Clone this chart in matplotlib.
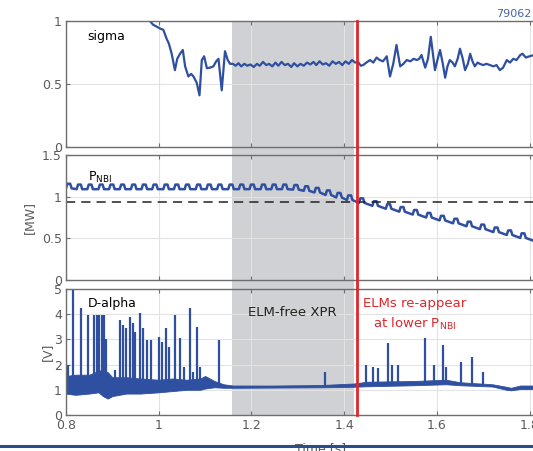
import matplotlib
matplotlib.use("Agg")
import matplotlib.pyplot as plt
from matplotlib.patches import Rectangle
from matplotlib.lines import Line2D
from matplotlib.transforms import blended_transform_factory
import numpy as np

SHOT = "79062"
BLUE = "#2f4fa0"
RED = "#e0262b"
SHADE = "#d0d1d4"
GRID = "#e3e3e3"
SPINE = "#6e6e6e"
TICK_TXT = "#5a5a5a"

XPR_START = 1.158
XPR_END = 1.421
ELM_RETURN = 1.428
P_THRESHOLD = 0.94

# sigma trace
sigma_t = [0.975, 0.981, 0.988, 0.996, 1.003, 1.010, 1.017, 1.022, 1.028, 1.035,
           1.040, 1.046, 1.052, 1.057, 1.064, 1.070, 1.075, 1.082, 1.088, 1.093,
           1.098, 1.104, 1.111, 1.118, 1.124, 1.129, 1.136, 1.143, 1.149, 1.154,
           1.160, 1.166, 1.172, 1.178, 1.185, 1.191, 1.198, 1.205, 1.212, 1.218,
           1.225, 1.232, 1.238, 1.245, 1.252, 1.258, 1.265, 1.272, 1.279, 1.286,
           1.292, 1.299, 1.306, 1.313, 1.320, 1.327, 1.334, 1.340, 1.347, 1.354,
           1.361, 1.368, 1.375, 1.382, 1.389, 1.396, 1.403, 1.410, 1.417, 1.424,
           1.430, 1.436, 1.441, 1.448, 1.456, 1.463, 1.470, 1.477, 1.484, 1.492,
           1.499, 1.506, 1.513, 1.521, 1.528, 1.535, 1.543, 1.550, 1.557, 1.562,
           1.567, 1.575, 1.581, 1.587, 1.596, 1.602, 1.607, 1.613, 1.618, 1.623,
           1.628, 1.634, 1.639, 1.645, 1.650, 1.656, 1.661, 1.667, 1.672, 1.677,
           1.682, 1.688, 1.693, 1.700, 1.707, 1.715, 1.722, 1.729, 1.736, 1.743,
           1.751, 1.758, 1.765, 1.772, 1.780, 1.785, 1.792, 1.800, 1.810]
sigma_v = [1.05, 1.00, 0.97, 0.955, 0.94, 0.93, 0.86, 0.82, 0.74, 0.61,
           0.70, 0.74, 0.77, 0.64, 0.56, 0.58, 0.56, 0.51, 0.41, 0.69,
           0.72, 0.625, 0.63, 0.64, 0.68, 0.70, 0.45, 0.76, 0.69, 0.66,
           0.66, 0.645, 0.665, 0.64, 0.66, 0.645, 0.655, 0.635, 0.66, 0.645,
           0.675, 0.65, 0.66, 0.64, 0.67, 0.645, 0.675, 0.65, 0.66, 0.635,
           0.665, 0.64, 0.66, 0.645, 0.67, 0.655, 0.675, 0.65, 0.68, 0.655,
           0.665, 0.645, 0.68, 0.66, 0.675, 0.65, 0.68, 0.66, 0.69, 0.67,
           0.675, 0.645, 0.65, 0.67, 0.69, 0.67, 0.71, 0.69, 0.68, 0.72,
           0.56, 0.66, 0.81, 0.64, 0.66, 0.69, 0.68, 0.70, 0.69, 0.70,
           0.73, 0.63, 0.70, 0.875, 0.61, 0.70, 0.77, 0.66, 0.55, 0.64,
           0.69, 0.67, 0.64, 0.70, 0.78, 0.70, 0.61, 0.66, 0.74, 0.68,
           0.64, 0.67, 0.66, 0.65, 0.66, 0.65, 0.64, 0.65, 0.61, 0.63,
           0.69, 0.67, 0.70, 0.69, 0.73, 0.74, 0.71, 0.72, 0.73]

# NBI power: start time and base level of each modulation pulse
pnbi_pulse_t = [0.800, 0.823, 0.846, 0.870, 0.893, 0.916, 0.940, 0.963, 0.986, 1.010,
                1.033, 1.056, 1.080, 1.103, 1.126, 1.150, 1.173, 1.196, 1.220, 1.243,
                1.266, 1.290, 1.313, 1.336, 1.360, 1.383, 1.406, 1.432, 1.461, 1.490,
                1.519, 1.548, 1.577, 1.606, 1.635, 1.664, 1.693, 1.722, 1.751, 1.780,
                1.809]
pnbi_base = [1.10, 1.09, 1.09, 1.09, 1.09, 1.09, 1.09, 1.09, 1.09, 1.09,
             1.09, 1.09, 1.09, 1.09, 1.09, 1.09, 1.09, 1.09, 1.09, 1.09,
             1.09, 1.085, 1.07, 1.05, 1.02, 0.99, 0.96, 0.925, 0.89, 0.855,
             0.82, 0.785, 0.75, 0.715, 0.68, 0.645, 0.61, 0.575, 0.54, 0.505,
             0.47]
PULSE_HEIGHT = 0.055

# D-alpha baseline envelope
da_env_t = [0.800, 0.820, 0.850, 0.870, 0.880, 0.890, 0.900, 0.930, 0.960, 1.000,
            1.030, 1.060, 1.090, 1.100, 1.120, 1.140, 1.160, 1.250, 1.350, 1.420,
            1.450, 1.550, 1.620, 1.650, 1.720, 1.750, 1.760, 1.780, 1.810]
da_env_lo = [0.85, 0.80, 0.85, 0.90, 0.75, 0.65, 0.75, 0.85, 0.85, 0.90,
             0.95, 1.00, 1.00, 1.05, 1.10, 1.08, 1.08, 1.09, 1.10, 1.12,
             1.14, 1.18, 1.22, 1.18, 1.13, 1.00, 0.98, 1.03, 1.03]
da_env_hi = [1.55, 1.60, 1.60, 1.75, 1.80, 1.70, 1.50, 1.50, 1.45, 1.40,
             1.45, 1.40, 1.45, 1.55, 1.35, 1.22, 1.17, 1.17, 1.19, 1.25,
             1.32, 1.35, 1.40, 1.30, 1.22, 1.12, 1.08, 1.17, 1.17]

# D-alpha ELM spikes (time, peak)
elm_t = [0.805, 0.8155, 0.8324, 0.8481, 0.861, 0.866, 0.872, 0.877, 0.882, 0.8863,
         0.9057, 0.9165, 0.9237, 0.9295, 0.9381, 0.9453, 0.9489, 0.9597, 0.9655, 0.9741,
         0.9827, 1.0014, 1.0078, 1.0158, 1.0229, 1.0352, 1.0460, 1.0546, 1.0675, 1.0747,
         1.0833, 1.0891, 1.1308, 1.3588, 1.447, 1.462, 1.474, 1.495, 1.503, 1.516,
         1.575, 1.593, 1.614, 1.620, 1.653, 1.675, 1.700]
elm_v = [2.0, 5.0, 4.24, 3.97, 3.97, 3.97, 3.97, 3.97, 3.97, 3.0,
         1.8, 3.77, 3.57, 3.44, 3.9, 3.64, 3.3, 4.04, 3.44, 2.97,
         2.97, 3.1, 2.9, 3.44, 2.7, 3.97, 3.04, 1.9, 4.24, 1.7,
         3.5, 1.9, 2.97, 1.7, 1.98, 1.9, 1.85, 2.84, 2.0, 1.98,
         3.04, 2.0, 2.78, 1.9, 2.1, 2.31, 1.7]

xticks = [0.8, 1.0, 1.2, 1.4, 1.6, 1.8]
xtick_labels = ["0.8", "1", "1.2", "1.4", "1.6", "1.8"]


def pnbi_trace(starts, bases, height):
    t, v = [], []
    for t0, b in zip(starts, bases):
        t += [t0, t0 + 0.003, t0 + 0.009, t0 + 0.012]
        v += [b, b + height, b + height, b]
    return np.array(t), np.array(v)


def style_axis(ax, ylim, yticks, ylabels):
    ax.set_facecolor("none")
    ax.set_xlim(0.8, 1.9)
    ax.set_ylim(*ylim)
    ax.set_xticks(xticks)
    ax.set_yticks(yticks)
    ax.set_yticklabels(ylabels)
    ax.grid(True, color=GRID, linewidth=0.8)
    ax.set_axisbelow(True)
    ax.tick_params(direction="in", length=3, width=0.8, color=SPINE,
                   labelsize=9, labelcolor=TICK_TXT, top=True, right=True, pad=3)
    for spine in ax.spines.values():
        spine.set_color(SPINE)
        spine.set_linewidth(1.0)


fig = plt.figure(figsize=(5.33, 4.51), dpi=100)
left = 66 / 533
width = 1.1 * 463.5 / 533
ax1 = fig.add_axes([left, 1 - 147 / 451, width, 126 / 451])
ax2 = fig.add_axes([left, 1 - 280 / 451, width, 125 / 451])
ax3 = fig.add_axes([left, 1 - 415 / 451, width, 126 / 451])

# shaded XPR window and ELM return marker span all panels
span = blended_transform_factory(ax3.transData, fig.transFigure)
fig.patches.append(Rectangle((XPR_START, 1 - 415 / 451), XPR_END - XPR_START, 394 / 451,
                             transform=span, facecolor=SHADE, edgecolor="none", zorder=-1))
fig.lines.append(Line2D([ELM_RETURN, ELM_RETURN], [1 - 415 / 451, 1 - 21 / 451],
                        transform=span, color=RED, linewidth=2.0, zorder=10))

# sigma
style_axis(ax1, (0, 1), [0, 0.5, 1], ["0", "0.5", "1"])
ax1.plot(sigma_t, sigma_v, color=BLUE, linewidth=1.6)
ax1.set_xticklabels([])
ax1.text(0.0415, 0.85, "sigma", transform=ax1.transAxes, fontsize=9)

# NBI power
style_axis(ax2, (0, 1.5), [0, 0.5, 1, 1.5], ["0", "0.5", "1", "1.5"])
pt, pv = pnbi_trace(pnbi_pulse_t, pnbi_base, PULSE_HEIGHT)
ax2.plot(pt, pv, color=BLUE, linewidth=1.8)
ax2.axhline(P_THRESHOLD, color="#222222", linewidth=1.1, dashes=(6, 4))
ax2.set_xticklabels([])
ax2.set_ylabel("[MW]", fontsize=9, color=TICK_TXT, labelpad=4)
ax2.text(0.043, 0.79, "P$_{\\mathregular{NBI}}$", transform=ax2.transAxes, fontsize=9)

# D-alpha
style_axis(ax3, (0, 5), [0, 1, 2, 3, 4, 5], ["0", "1", "2", "3", "4", "5"])
ax3.fill_between(da_env_t, da_env_lo, da_env_hi, color=BLUE, linewidth=0.6,
                 edgecolor=BLUE)
base_at_elm = np.interp(elm_t, da_env_t, da_env_lo)
ax3.vlines(elm_t, base_at_elm, elm_v, color=BLUE, linewidth=1.6)
ax3.set_xticklabels(xtick_labels)
ax3.set_ylabel("[V]", fontsize=9, color=TICK_TXT, labelpad=0)
ax3.set_xlabel("Time [s]", fontsize=9, color=TICK_TXT, labelpad=7)
ax3.text(0.043, 0.86, "D-alpha", transform=ax3.transAxes, fontsize=9)
ax3.text(1.288, 4.05, "ELM-free XPR", ha="center", va="center",
         fontsize=9.5, color="#222222")
ax3.text(1.553, 4.44, "ELMs re-appear", ha="center", va="center", fontsize=9.5, color=RED)
ax3.text(1.553, 3.62, "at lower P$_{\\mathregular{NBI}}$", ha="center", va="center",
         fontsize=9.5, color=RED)

fig.text(531 / 533, 1 - 14 / 451, SHOT, ha="right", va="center", fontsize=8,
         color="#4363a8")
fig.lines.append(Line2D([0, 1], [1 - 446 / 451, 1 - 446 / 451], transform=fig.transFigure,
                        color="#2c4c8c", linewidth=2.2, zorder=20))

fig.savefig("out.png", dpi=100)
